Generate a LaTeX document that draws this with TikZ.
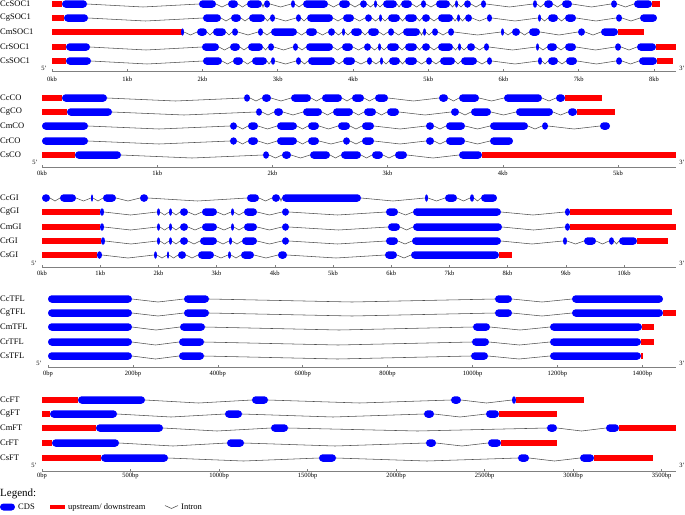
\documentclass[tikz,border=0pt]{standalone}
\usepackage{fontspec}
\setmainfont{Liberation Serif}
\definecolor{cdsblue}{RGB}{0,0,255}
\definecolor{utrred}{RGB}{255,0,0}
\definecolor{axisgray}{RGB}{128,128,128}
\definecolor{introngray}{RGB}{80,80,80}
\tikzset{
  genelabel/.style={anchor=west,inner sep=0pt,font=\fontsize{8.5}{10}\selectfont},
  ticklabel/.style={anchor=north,inner sep=0pt,font=\fontsize{6.5}{7}\selectfont},
  endlabel/.style={inner sep=0pt,font=\fontsize{6.5}{7}\selectfont},
  intron/.style={draw=introngray,line width=0.55pt},
  cds/.style={fill=cdsblue},
  utr/.style={fill=utrred},
  axisline/.style={draw=axisgray,line width=0.9pt},
  legtext/.style={anchor=west,inner sep=0pt,font=\fontsize{8.5}{10}\selectfont}
}
\newcommand\gene[3]{%
  \node[genelabel] (lbl-#2) at (0,#1) {#2};
  \gdef\prevend{}%
  \foreach \t/\a/\b in {#3}{%
    \ifx\prevend\empty\else
      \ifdim\a pt>\dimexpr\prevend pt+0.5pt\relax
        \draw[intron] (\prevend,#1) -- ({(\prevend+\a)/2},#1+3) -- (\a,#1);
      \fi
    \fi
    \if e\t
      \pgfmathsetmacro\w{\b-\a}%
      \ifdim\w pt<7pt
        \pgfmathsetmacro\rx{\w/2}%
        \pgfmathsetmacro\cx{(\a+\b)/2}%
        \fill[cds] (\cx,#1) ellipse [x radius=\rx pt, y radius=3.75pt];
      \else
        \fill[cds,rounded corners=3.7pt] (\a,#1-3.75) rectangle (\b,#1+3.75);
      \fi
    \else
      \fill[utr] (\a,#1-3) rectangle (\b,#1+3);
    \fi
    \xdef\prevend{\b}%
  }%
}
% \geneaxis{y}{x0}{step px}{list of labels}{label y}{5' x}{5' y}
\newcommand\geneaxis[7]{%
  \draw[axisline] (#2,#1) -- (676,#1);
  \foreach \lab [count=\k from 0] in {#4}{%
    \pgfmathsetmacro\tx{#2+#3*\k}%
    \draw[axisline,line width=0.6pt] (\tx,#1) -- (\tx,#1-2.5);
    \node[ticklabel] at (\tx,#5) {\lab};
  }
  \node[endlabel] at (#6,#7) {5'};
  \node[endlabel] at (682,#7) {3'};
}
\begin{document}
\begin{tikzpicture}[x=1pt,y=-1pt]
\useasboundingbox (0,0) rectangle (685,514);
% ---------------- SOC1
\gene{4}{CcSOC1}{u/52/62, e/62/87, e/199/216, e/228/238, e/247/262, e/264/270, e/291/295, e/303/328, e/339/350, e/360/367, e/374/377, e/383/397, e/401/412, e/421/426, e/436/450, e/455/458, e/464/471, e/481/486, e/533/537, e/544/553, e/562/572, e/611/617, e/634/652, u/652/660}
\gene{18}{CgSOC1}{u/52/64, e/64/88, e/203/221, e/231/241, e/249/265, e/270/275, e/296/301, e/307/333, e/343/354, e/365/372, e/379/382, e/388/400, e/405/417, e/422/430, e/438/453, e/457/460, e/465/472, e/487/492, e/538/541, e/548/558, e/565/576, e/616/622, e/640/657}
\gene{32}{CmSOC1}{u/52/182, e/181/184, e/197/207, e/213/226, e/232/238, e/258/263, e/271/297, e/306/317, e/328/335, e/342/345, e/351/362, e/368/379, e/388/394, e/403/420, e/423/426, e/432/438, e/448/454, e/501/504, e/512/520, e/529/540, e/578/585, e/601/618, u/618/644}
\gene{47}{CrSOC1}{u/52/66, e/66/90, e/202/219, e/230/240, e/248/263, e/268/274, e/293/298, e/306/333, e/342/353, e/364/371, e/378/381, e/387/399, e/405/417, e/422/430, e/438/453, e/458/461, e/467/475, e/484/489, e/536/539, e/547/557, e/565/576, e/615/621, e/637/656, u/656/676}
\gene{61}{CsSOC1}{u/52/66, e/66/91, e/203/222, e/233/243, e/252/267, e/271/275, e/296/301, e/308/335, e/343/355, e/367/372, e/380/383, e/389/400, e/405/417, e/426/432, e/440/455, e/461/477, e/487/492, e/538/542, e/548/558, e/566/577, e/616/622, e/639/657, u/657/673}
\geneaxis{71}{52}{75.25}{0kb,1kb,2kb,3kb,4kb,5kb,6kb,7kb,8kb}{77}{44}{68}
% ---------------- CO
\gene{98}{CcCO}{u/42/62, e/62/107, e/244/250, e/262/271, e/291/311, e/322/342, e/352/364, e/375/388, e/439/448, e/459/479, e/504/542, e/556/565, u/565/602}
\gene{112}{CgCO}{u/42/67, e/67/112, e/256/262, e/274/283, e/303/322, e/333/353, e/364/376, e/387/399, e/451/459, e/471/491, e/516/553, e/568/577, u/577/615}
\gene{126}{CmCO}{e/42/88, e/230/237, e/248/258, e/277/297, e/308/319, e/338/350, e/362/374, e/426/434, e/446/465, e/490/528, e/542/548, e/600/610}
\gene{141}{CrCO}{e/42/88, e/230/237, e/248/258, e/277/297, e/308/319, e/343/350, e/362/374, e/426/434, e/446/465, e/490/513}
\gene{155}{CsCO}{u/42/75, e/75/121, e/263/269, e/282/291, e/310/330, e/341/361, e/372/383, e/395/407, e/459/482, u/482/676}
\geneaxis{167}{42}{115.2}{0kb,1kb,2kb,3kb,4kb,5kb}{171}{35}{162}
% ---------------- GI
\gene{198}{CcGI}{e/42/50, e/60/76, e/91/93, e/103/116, e/140/148, e/247/259, e/272/280, e/282/361, e/425/428, e/445/457, e/470/474, e/481/497}
\gene{212}{CgGI}{u/42/100, e/100/104, e/157/160, e/169/172, e/180/188, e/202/217, e/231/234, e/244/257, e/282/289, e/386/398, e/413/501, e/565/570, u/570/672}
\gene{227}{CmGI}{u/42/100, e/100/104, e/157/160, e/169/172, e/180/188, e/202/217, e/231/234, e/244/257, e/282/289, e/388/400, e/413/502, e/565/570, u/570/676}
\gene{241}{CrGI}{u/42/101, e/101/105, e/157/160, e/169/172, e/180/188, e/200/217, e/229/232, e/242/257, e/282/289, e/386/398, e/412/501, e/563/567, e/584/596, e/609/614, e/619/637, u/637/668}
\gene{255}{CsGI}{u/42/97, e/97/102, e/154/157, e/167/169, e/178/186, e/198/214, e/228/231, e/241/254, e/278/287, e/385/397, e/411/499, u/499/512}
\geneaxis{267}{42}{58.2}{0kb,1kb,2kb,3kb,4kb,5kb,6kb,7kb,8kb,9kb,10kb}{271}{34}{263}
% ---------------- TFL
\gene{299}{CcTFL}{e/48/132, e/184/209, e/495/512, e/572/663}
\gene{313}{CgTFL}{e/48/132, e/184/209, e/495/512, e/572/663, u/663/676}
\gene{327}{CmTFL}{e/48/132, e/180/205, e/473/490, e/550/642, u/642/654}
\gene{342}{CrTFL}{e/48/132, e/179/204, e/472/489, e/550/641, u/641/654}
\gene{356}{CsTFL}{e/48/132, e/179/204, e/471/488, e/550/641, u/641/643}
\geneaxis{367}{48}{84.9}{0bp,200bp,400bp,600bp,800bp,1000bp,1200bp,1400bp}{371}{39}{363}
% ---------------- FT
\gene{400}{CcFT}{u/42/78, e/78/145, e/252/268, e/451/461, e/512/516, u/516/584}
\gene{414}{CgFT}{u/42/50, e/50/117, e/225/242, e/424/434, e/486/499, u/499/557}
\gene{428}{CmFT}{u/42/96, e/96/163, e/271/288, e/547/557, e/606/619, u/619/676}
\gene{443}{CrFT}{u/42/52, e/52/119, e/227/244, e/426/436, e/488/501, u/501/557}
\gene{458}{CsFT}{u/42/101, e/101/168, e/319/336, e/518/529, e/580/594, u/594/653}
\geneaxis{471}{42}{88.5}{0bp,500bp,1000bp,1500bp,2000bp,2500bp,3000bp,3500bp}{473}{34}{465}
% ---------------- Legend
\node[anchor=west,inner sep=0pt,font=\fontsize{11}{12}\selectfont] (legtitle) at (0,494) {Legend:};
\fill[cds,rounded corners=3.5pt] (0,503.5) rectangle (15,510.5);
\node[legtext] (legcds) at (18,507) {CDS};
\fill[utr] (50,505) rectangle (65,509);
\node[legtext] (legutr) at (68,507) {upstream/ downstream};
\draw[intron] (165,505.5) -- (171.5,508.5) -- (178,505.5);
\node[legtext] (legintron) at (181,507) {Intron};
\end{tikzpicture}
\end{document}
